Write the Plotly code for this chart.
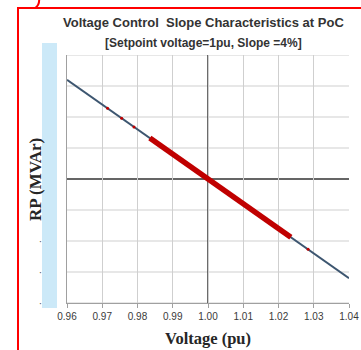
import plotly.graph_objects as go

# ---- data ----
voltage_line = [0.96, 1.00, 1.04]
rp_line = [3.2, 0.0, -3.2]

voltage_red = [0.9835, 0.99, 1.00, 1.01, 1.0235]
rp_red = [1.32, 0.8, 0.0, -0.8, -1.88]

voltage_specks = [0.9715, 0.9755, 0.979, 1.0284]
rp_specks = [2.28, 1.96, 1.68, -2.27]

x_ticks = [0.96, 0.97, 0.98, 0.99, 1.00, 1.01, 1.02, 1.03, 1.04]
x_ticktext = ["0.96", "0.97", "0.98", "0.99", "1.00", "1.01", "1.02", "1.03", "1.04"]
y_ticks = [-4, -3, -2, -1, 0, 1, 2, 3, 4]
y_dot_ticks = [-2, -3, -4]

W, H = 361, 350
L, R, T, B = 67, 12, 55, 47
PW, PH = W - L - R, H - T - B


def px(x):
    return (x - L) / PW


def py(y):
    return (H - B - y) / PH


fig = go.Figure()
fig.add_trace(go.Scatter(x=voltage_line, y=rp_line, mode="lines",
                         line=dict(color="#3d5670", width=2), hoverinfo="skip"))
fig.add_trace(go.Scatter(x=voltage_red, y=rp_red, mode="lines",
                         line=dict(color="#c00000", width=5.5), hoverinfo="skip"))
fig.add_trace(go.Scatter(x=voltage_specks, y=rp_specks, mode="markers",
                         marker=dict(color="#c00000", size=3), hoverinfo="skip"))

fig.update_layout(
    width=W, height=H,
    margin=dict(l=L, r=R, t=T, b=B, autoexpand=False),
    paper_bgcolor="white", plot_bgcolor="white",
    showlegend=False,
    font=dict(family="Liberation Sans", color="#333333"),
    xaxis=dict(range=[0.96, 1.04], tickvals=x_ticks, ticktext=x_ticktext,
               showgrid=True, gridcolor="#cfcfcf", gridwidth=1, automargin=False,
               zeroline=False, showline=True, linecolor="#a0a0a0", linewidth=1,
               ticks="outside", ticklen=4, tickcolor="#a0a0a0",
               tickfont=dict(size=10, color="#3a3a3a", family="Liberation Sans"),
               title=dict(text="<b>Voltage (pu)</b>",
                          font=dict(family="Liberation Serif", size=16.5, color="#262626"),
                          standoff=11)),
    yaxis=dict(range=[-4, 4], tickvals=y_dot_ticks, ticktext=["·"] * len(y_dot_ticks),
               showgrid=False, automargin=False,
               zeroline=False, showline=True, linecolor="#a0a0a0", linewidth=1,
               ticks="", tickfont=dict(size=10, color="#555555"),
               ticklabelstandoff=22),
)

# horizontal grid
for yv in y_ticks:
    fig.add_hline(y=yv, line=dict(color="#cfcfcf", width=1), layer="below")
# main axes lines through origin
fig.add_hline(y=0, line=dict(color="#3a3a3a", width=1.5), layer="below")
fig.add_vline(x=1.00, line=dict(color="#3a3a3a", width=1.5), layer="below")

# light blue strip
fig.add_shape(type="rect", xref="paper", yref="paper",
              x0=px(42), x1=px(57), y0=py(308), y1=py(43),
              fillcolor="#cce9f8", line=dict(width=0), layer="below")
# red frame
fig.add_shape(type="path", xref="paper", yref="paper",
              path=f"M {px(18)},{py(352)} L {px(18)},{py(8)} L {px(364)},{py(8)}",
              line=dict(color="#ff0000", width=2))
fig.add_shape(type="path", xref="paper", yref="paper",
              path=f"M {px(39)},{py(-2)} Q {px(40)},{py(5)} {px(35)},{py(8)}",
              line=dict(color="#ff0000", width=2))

fig.add_annotation(text="<b>Voltage Control  Slope Characteristics at PoC</b>",
                   xref="paper", yref="paper", x=px(203), y=py(23),
                   xanchor="center", yanchor="middle",
                   showarrow=False, font=dict(size=13, color="#333333"))
fig.add_annotation(text="<b>[Setpoint voltage=1pu, Slope =4%]</b>",
                   xref="paper", yref="paper", x=px(203), y=py(43),
                   xanchor="center", yanchor="middle",
                   showarrow=False, font=dict(size=12, color="#333333"))
fig.add_annotation(text="<b>RP (MVAr)</b>", textangle=-90,
                   xref="paper", yref="paper", x=px(35), y=py(180),
                   xanchor="center", yanchor="middle",
                   showarrow=False,
                   font=dict(family="Liberation Serif", size=17, color="#262626"))

fig.write_html("out.html", config={"displayModeBar": False},
               post_script="document.body.style.margin='0';document.body.style.overflow='hidden';")
